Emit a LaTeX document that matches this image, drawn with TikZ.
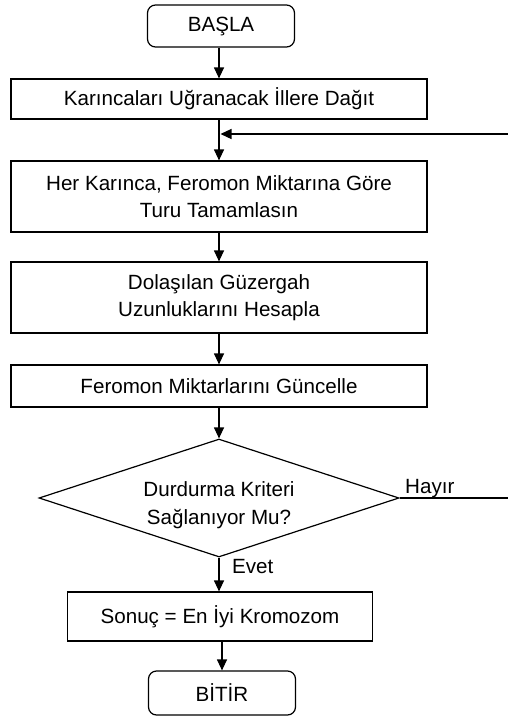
\documentclass[tikz,border=0pt]{standalone}
\usepackage{fontspec}
\setmainfont{Liberation Sans}
\usetikzlibrary{shapes.geometric,arrows.meta}
\begin{document}
\begin{tikzpicture}[x=1pt,y=-1pt,
  every node/.style={font=\fontsize{20.6}{27.5}\selectfont, align=center, inner sep=0pt},
  box/.style={draw, line width=1.2pt, rectangle, minimum width=416pt},
  term/.style={draw, line width=1.2pt, rectangle, rounded corners=8pt, minimum width=147pt, minimum height=42pt},
  decide/.style={draw, line width=1.2pt, diamond, minimum width=360pt, minimum height=118pt, aspect=3.05},
  flow/.style={line width=1.2pt, -{Triangle[length=11pt,width=10pt]}},
  plain/.style={line width=1.2pt}]
  \useasboundingbox (0,0) rectangle (508,718);
  \fill[white] (0,0) rectangle (508,718);

  \node[term] (start) at (221,26) {BAŞLA};
  \node[box, minimum height=40pt] (dist) at (219,99) {Karıncaları Uğranacak İllere Dağıt};
  \node[box, minimum height=71pt] (tour) at (219,196.5) {Her Karınca, Feromon Miktarına Göre\\Turu Tamamlasın};
  \node[box, minimum height=71pt] (len) at (219,297.5) {Dolaşılan Güzergah\\Uzunluklarını Hesapla};
  \node[box, minimum height=42pt] (upd) at (219,386) {Feromon Miktarlarını Güncelle};
  % the strut sets the two lines a little below the diamond's middle
  \node[decide] (stop) at (219,498) {\rule{0pt}{29pt}Durdurma Kriteri\\Sağlanıyor Mu?};
  \node[box, minimum width=305pt, minimum height=49pt] (res) at (220,616.5) {Sonuç = En İyi Kromozom};
  \node[term, minimum height=44pt] (end) at (222,693) {BİTİR};

  \coordinate (back) at (508,134);
  \coordinate (join) at (219,134);
  \coordinate (out) at (508,498);

  \draw[flow] (start.south -| dist.north) -- (dist.north);
  \draw[flow] (dist.south) -- (tour.north);
  \draw[flow] (back) -- ([xshift=1.5pt]join);
  \draw[flow] (tour.south) -- (len.north);
  \draw[flow] (len.south) -- (upd.north);
  \draw[flow] (upd.south) -- (stop.north);
  \draw[flow] (stop.south) -- (stop.south |- res.north);
  \draw[plain] (stop.east) -- (out);
  \draw[flow] (res.south -| end.north) -- (end.north);

  \node[anchor=base west] (no) at (405,493) {Hayır};
  \node[anchor=base west] (yes) at (232,573) {Evet};
\end{tikzpicture}
\end{document}
